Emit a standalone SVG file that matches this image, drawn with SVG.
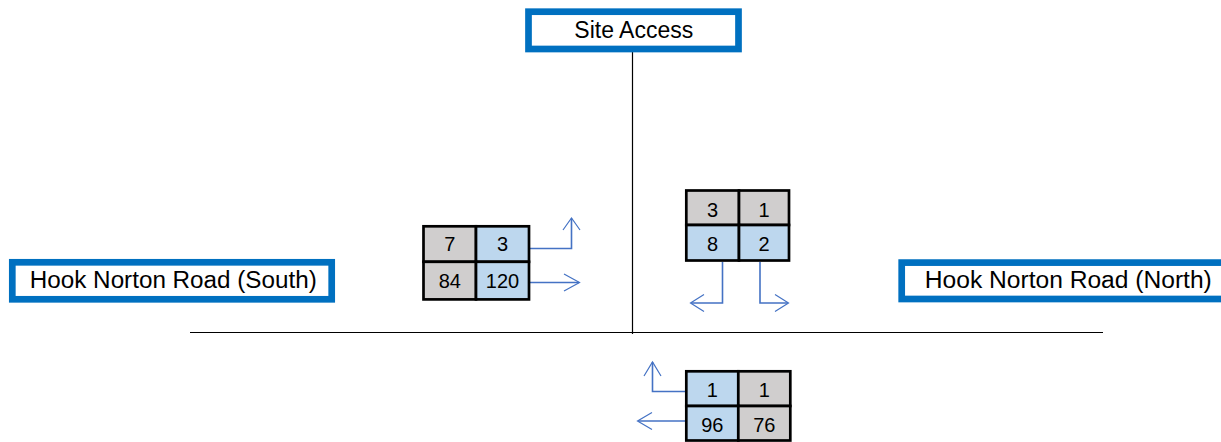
<svg xmlns="http://www.w3.org/2000/svg" width="1221" height="442" viewBox="0 0 1221 442">
<style>
.lbl{fill:#fff;stroke:#0070C0;stroke-width:6.7}
.lt{font-family:"Liberation Sans",Arial,sans-serif;font-size:23px;fill:#000;text-anchor:middle}
.num{font-family:"Liberation Sans",Arial,sans-serif;font-size:20px;fill:#000;text-anchor:middle}
.g{fill:#D0CECE;stroke:#000;stroke-width:2.7}
.b{fill:#BDD7EE;stroke:#000;stroke-width:2.7}
.road{stroke:#000;stroke-width:1.2;fill:none}
.arr{stroke:#4472C4;stroke-width:1.6;fill:none}
.head{stroke:#4472C4;stroke-width:1.2;fill:none}
</style>
<rect width="1221" height="442" fill="#fff"/>
<g id="connectors">
<line class="road" x1="632.5" y1="52" x2="632.5" y2="334"/>
<line class="road" x1="190" y1="332.5" x2="1103" y2="332.5" stroke="#333"/>
<!-- left table arrows -->
<polyline class="arr" points="530,248.5 571.5,248.5 571.5,218.5"/>
<polyline class="head" points="563,230 571.5,218 580,230"/>
<line class="arr" x1="530" y1="282.5" x2="579" y2="282.5"/>
<polyline class="head" points="564,274 579.5,282.5 564,291"/>
<!-- right table arrows -->
<polyline class="arr" points="722.5,262 722.5,303 691,303"/>
<polyline class="head" points="704,294.5 690.5,303 704,311.5"/>
<polyline class="arr" points="760,262 760,303 788,303"/>
<polyline class="head" points="775,294.5 788.5,303 775,311.5"/>
<!-- bottom table arrows -->
<polyline class="arr" points="685,391.5 652.5,391.5 652.5,362"/>
<polyline class="head" points="644,376 652.5,362 661,376"/>
<line class="arr" x1="685" y1="421" x2="638" y2="421"/>
<polyline class="head" points="652,412.5 637.5,421 652,429.5"/>
</g>
<g id="site-access">
<rect class="lbl" x="528.5" y="11.7" width="210" height="37.3"/>
<text class="lt" x="633.8" y="38">Site Access</text>
</g>
<g id="hook-norton-south">
<rect class="lbl" x="12.3" y="262.3" width="319.4" height="37"/>
<text class="lt" x="173.3" y="288" textLength="287" lengthAdjust="spacingAndGlyphs">Hook Norton Road (South)</text>
</g>
<g id="hook-norton-north">
<rect class="lbl" x="901.7" y="262.6" width="330" height="36.4"/>
<text class="lt" x="1068.3" y="288" textLength="287" lengthAdjust="spacingAndGlyphs">Hook Norton Road (North)</text>
</g>
<g id="table-west">
<rect class="g" x="423.5" y="226.3" width="52.5" height="35.5"/>
<rect class="b" x="476" y="226.3" width="53" height="35.5"/>
<rect class="g" x="423.5" y="261.8" width="52.5" height="37.6"/>
<rect class="b" x="476" y="261.8" width="53" height="37.6"/>
<text class="num" x="449.8" y="251">7</text>
<text class="num" x="502.5" y="251">3</text>
<text class="num" x="449.8" y="288.3">84</text>
<text class="num" x="502.5" y="288.3">120</text>
</g>
<g id="table-east">
<rect class="g" x="686.3" y="190.5" width="52.7" height="34.5"/>
<rect class="g" x="739" y="190.5" width="50" height="34.5"/>
<rect class="b" x="686.3" y="225" width="52.7" height="35.5"/>
<rect class="b" x="739" y="225" width="50" height="35.5"/>
<text class="num" x="712.6" y="216.7">3</text>
<text class="num" x="764" y="216.7">1</text>
<text class="num" x="712.6" y="250.7">8</text>
<text class="num" x="764" y="250.7">2</text>
</g>
<g id="table-south">
<rect class="b" x="686.3" y="371.3" width="52" height="34.7"/>
<rect class="g" x="738.3" y="371.3" width="52" height="34.7"/>
<rect class="b" x="686.3" y="406" width="52" height="34.5"/>
<rect class="g" x="738.3" y="406" width="52" height="34.5"/>
<text class="num" x="712.3" y="396.7">1</text>
<text class="num" x="764.3" y="396.7">1</text>
<text class="num" x="712.3" y="431.7">96</text>
<text class="num" x="764.3" y="431.7">76</text>
</g>
</svg>
